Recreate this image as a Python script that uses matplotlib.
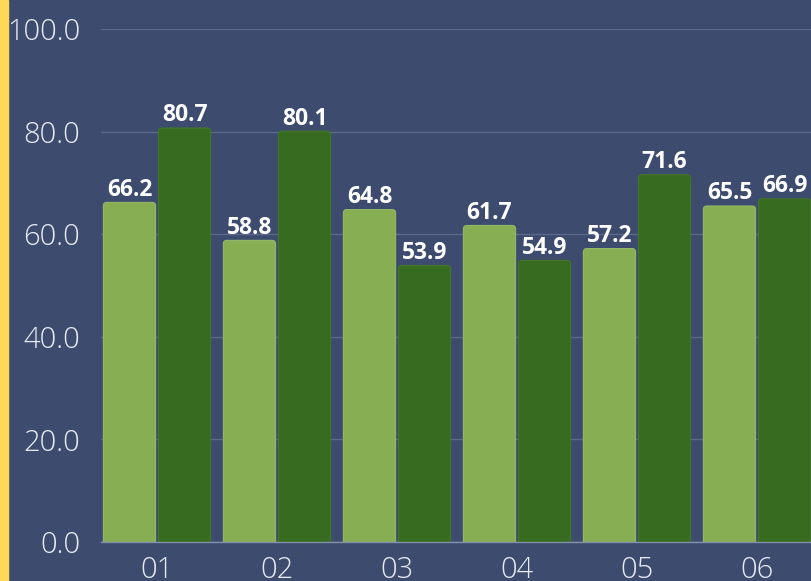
import matplotlib.pyplot as plt
import numpy as np
from matplotlib.patches import Rectangle, FancyBboxPatch

# data
months = ['01', '02', '03', '04', '05', '06']
series_a = [66.2, 58.8, 64.8, 61.7, 57.2, 65.5]
series_b = [80.7, 80.1, 53.9, 54.9, 71.6, 66.9]

bg = '#3c4b6e'
light_green = '#87ae52'
dark_green = '#376b1f'

plt.rcParams['font.family'] = ['Open Sans', 'DejaVu Sans']

fig = plt.figure(figsize=(8.11, 5.81), dpi=100, facecolor=bg)
ax = fig.add_axes([101 / 811, 39 / 581, 710 / 811, 513 / 581])
ax.set_facecolor(bg)

# yellow strip on the left edge
fig.patches.append(Rectangle((0, 0), 8 / 811, 1, transform=fig.transFigure,
                             color='#ffd855', zorder=5))

x = np.arange(len(months))
w = 0.435
off = 0.2295
ax.set_xlim(-0.467, 5.45)
ax.set_ylim(0, 100)

# bars with slightly rounded tops (bottom rounding hidden below y=0)
def rounded_bars(xs, vals, color, edge):
    for xc, v in zip(xs, vals):
        p = FancyBboxPatch((xc - w / 2, -2), w, v + 2,
                           boxstyle='round,pad=0,rounding_size=0.03',
                           mutation_aspect=22, facecolor=color,
                           edgecolor=edge, linewidth=0.8, zorder=3)
        ax.add_patch(p)
        ax.text(xc, v + 0.1, f'{v:.1f}', ha='center', va='bottom',
                color='white', fontsize=16.5, fontweight='bold', zorder=4)

rounded_bars(x - off, series_a, light_green, '#95b968')
rounded_bars(x + off, series_b, dark_green, '#44762c')

ax.set_yticks(np.arange(0, 101, 20))
ax.set_yticklabels([f'{v:.1f}' for v in np.arange(0, 101, 20)])
ax.set_xticks(x)
ax.set_xticklabels(months)
ax.tick_params(axis='both', length=0, colors='#e8ecf2', labelsize=21)
ax.tick_params(axis='y', pad=15)
ax.tick_params(axis='x', pad=10)
for lab in ax.get_xticklabels() + ax.get_yticklabels():
    lab.set_fontweight('light')

ax.grid(axis='y', color='#5b6a8b', linewidth=1, zorder=0)
for s in ['top', 'right', 'left']:
    ax.spines[s].set_visible(False)
ax.spines['bottom'].set_color('#8390ab')
ax.spines['bottom'].set_linewidth(1)
ax.spines['bottom'].set_zorder(5)

fig.savefig('out.png', dpi=100, facecolor=bg)
